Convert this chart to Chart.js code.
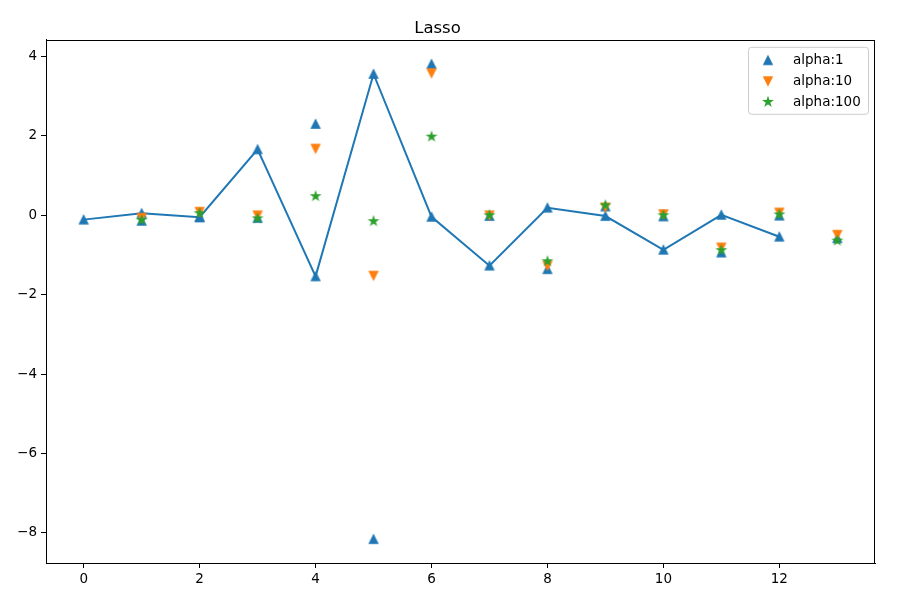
<!DOCTYPE html>
<html>
<head>
<meta charset="utf-8">
<script src="https://cdn.jsdelivr.net/npm/chart.js@4.4.1/dist/chart.umd.min.js"></script>
<style>
  html, body { margin: 0; padding: 0; background: #ffffff; }
  #wrap { width: 909px; height: 613px; position: relative; }
</style>
</head>
<body>
<div id="wrap"><canvas id="c"></canvas></div>
<script>
// ---- data ----
const lineX = [0, 1, 2, 3, 4, 5, 6, 7, 8, 9, 10, 11, 12];
const lineValues = [-0.11, 0.05, -0.05, 1.66, -1.54, 3.56, -0.04, -1.27, 0.19, -0.02, -0.87, 0.01, -0.54];
const coefX = [1, 2, 3, 4, 5, 6, 7, 8, 9, 10, 11, 12, 13];
const alpha1 = [-0.14, -0.05, -0.07, 2.30, -8.16, 3.81, -0.02, -1.36, 0.22, -0.03, -0.94, -0.01, -0.58];
const alpha10 = [-0.06, 0.09, 0.00, 1.68, -1.52, 3.58, 0.00, -1.27, 0.20, 0.03, -0.81, 0.07, -0.49];
const alpha100 = [-0.12, 0.05, -0.08, 0.48, -0.15, 1.98, 0.00, -1.16, 0.25, 0.00, -0.88, 0.02, -0.64];
const seriesLabels = ['alpha:1', 'alpha:10', 'alpha:100'];
const xTicks = [0, 2, 4, 6, 8, 10, 12];
const yTicks = [-8, -6, -4, -2, 0, 2, 4];
const titleText = 'Lasso';

// ---- marker images (matplotlib-like shapes) ----
const BLUE = '#1f77b4', ORANGE = '#ff7f0e', GREEN = '#2ca02c';
function markerCanvas(kind, color) {
  const s = 14, c = document.createElement('canvas');
  c.width = s; c.height = s;
  const g = c.getContext('2d');
  const cx = s / 2, cy = s / 2, h = 4.17;
  g.beginPath();
  if (kind === 'up') {
    g.moveTo(cx, cy - h); g.lineTo(cx - h, cy + h); g.lineTo(cx + h, cy + h);
  } else if (kind === 'down') {
    g.moveTo(cx, cy + h); g.lineTo(cx - h, cy - h); g.lineTo(cx + h, cy - h);
  } else {
    const inner = 0.381966;
    for (let i = 0; i < 10; i++) {
      const r = (i % 2 === 0 ? 1 : inner) * h;
      const t = Math.PI / 2 + i * Math.PI / 5;
      const px = cx + r * Math.cos(t), py = cy - r * Math.sin(t);
      if (i === 0) g.moveTo(px, py); else g.lineTo(px, py);
    }
  }
  g.closePath();
  g.fillStyle = color; g.fill();
  g.lineWidth = 1.3; g.strokeStyle = color; g.lineJoin = 'miter'; g.stroke();
  return c;
}
const upMarker = markerCanvas('up', BLUE);
const downMarker = markerCanvas('down', ORANGE);
const starMarker = markerCanvas('star', GREEN);
const markerImgs = [upMarker, downMarker, starMarker];

const toPts = (xs, ys) => xs.map((x, i) => ({ x: x, y: ys[i] }));
const FONT = "'DejaVu Sans', sans-serif";
const fmt = v => (v < 0 ? '\u2212' + Math.abs(v) : String(v));

// ---- plugins ----
const framePlugin = {
  id: 'frame',
  afterDatasetsDraw(chart) {
    const a = chart.chartArea, ctx = chart.ctx;
    ctx.save();
    ctx.strokeStyle = '#000'; ctx.lineWidth = 1;
    ctx.strokeRect(Math.round(a.left) + 0.5, Math.round(a.top) + 0.5,
                   Math.round(a.right - a.left) - 1, Math.round(a.bottom - a.top));
    ctx.restore();
  }
};
const legendPlugin = {
  id: 'mplLegend',
  afterDraw(chart) {
    const a = chart.chartArea, ctx = chart.ctx;
    const w = 120, h = 67;
    const x0 = a.right - 7 - w, y0 = a.top + 7;
    ctx.save();
    ctx.beginPath();
    if (ctx.roundRect) ctx.roundRect(x0 + 0.5, y0 + 0.5, w, h, 3); else ctx.rect(x0 + 0.5, y0 + 0.5, w, h);
    ctx.fillStyle = 'rgba(255,255,255,0.8)'; ctx.fill();
    ctx.strokeStyle = '#cccccc'; ctx.lineWidth = 1; ctx.stroke();
    ctx.font = '13.5px ' + FONT;
    ctx.fillStyle = '#000'; ctx.textBaseline = 'middle'; ctx.textAlign = 'left';
    seriesLabels.forEach((lab, i) => {
      const cy = y0 + 13.5 + i * 20.8;
      const img = markerImgs[i];
      ctx.drawImage(img, x0 + 20 - img.width / 2, cy - img.height / 2);
      ctx.fillText(lab, x0 + 45, cy + 0.5);
    });
    ctx.restore();
  }
};

new Chart(document.getElementById('c'), {
  type: 'scatter',
  data: {
    datasets: [
      {
        label: 'coef', data: toPts(lineX, lineValues), showLine: true,
        borderColor: BLUE, borderWidth: 2, backgroundColor: BLUE,
        pointStyle: upMarker, pointRadius: 5, pointHoverRadius: 5, order: 4
      },
      {
        label: seriesLabels[0], data: toPts(coefX, alpha1),
        pointStyle: upMarker, pointRadius: 5, pointHoverRadius: 5,
        backgroundColor: BLUE, borderColor: BLUE, order: 3
      },
      {
        label: seriesLabels[1], data: toPts(coefX, alpha10),
        pointStyle: downMarker, pointRadius: 5, pointHoverRadius: 5,
        backgroundColor: ORANGE, borderColor: ORANGE, order: 2
      },
      {
        label: seriesLabels[2], data: toPts(coefX, alpha100),
        pointStyle: starMarker, pointRadius: 5, pointHoverRadius: 5,
        backgroundColor: GREEN, borderColor: GREEN, order: 1
      }
    ]
  },
  options: {
    responsive: true, maintainAspectRatio: false, animation: false,
    layout: { padding: { left: 0, right: 34, top: 0, bottom: 0 } },
    plugins: {
      legend: { display: false },
      tooltip: { enabled: false },
      title: {
        display: true, text: titleText, color: '#000',
        font: { family: FONT, size: 16.5, weight: 'normal' },
        padding: { top: 18.5, bottom: 1.5 }
      }
    },
    scales: {
      x: {
        type: 'linear', min: -0.65, max: 13.65,
        afterBuildTicks: s => { s.ticks = xTicks.map(v => ({ value: v })); },
        afterFit: s => { s.height = 50; },
        grid: { display: true, drawOnChartArea: false, drawTicks: true, tickLength: 5, tickColor: '#000', tickWidth: 1 },
        border: { display: true, color: '#000', width: 1 },
        ticks: { color: '#000', font: { family: FONT, size: 13.5 }, padding: 3, maxRotation: 0, callback: v => fmt(v) }
      },
      y: {
        type: 'linear', min: -8.76, max: 4.42,
        afterBuildTicks: s => { s.ticks = yTicks.map(v => ({ value: v })); },
        afterFit: s => { s.width = 46; },
        grid: { display: true, drawOnChartArea: false, drawTicks: true, tickLength: 5, tickColor: '#000', tickWidth: 1 },
        border: { display: true, color: '#000', width: 1 },
        ticks: { color: '#000', font: { family: FONT, size: 13.5 }, padding: 4, callback: v => fmt(v) }
      }
    }
  },
  plugins: [framePlugin, legendPlugin]
});
</script>
</body>
</html>
